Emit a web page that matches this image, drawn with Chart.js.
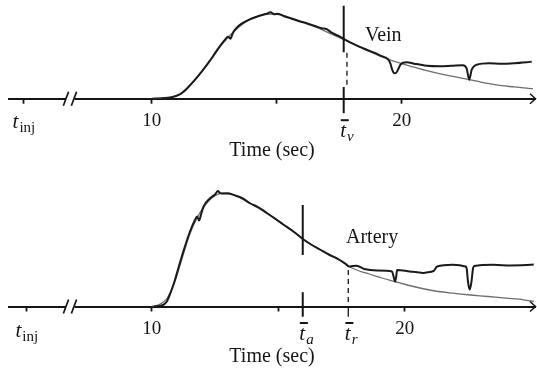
<!DOCTYPE html>
<html><head><meta charset="utf-8">
<script src="https://cdn.jsdelivr.net/npm/chart.js@4/dist/chart.umd.min.js"></script>
<style>
html,body{margin:0;padding:0;background:#fff;}
#wrap{position:relative;width:537px;height:374px;overflow:hidden;}
.panel{position:absolute;left:0;width:537px;height:187px;}
canvas{display:block;}
</style></head>
<body><div id="wrap">
<div class="panel" style="top:0"><canvas id="c1" width="537" height="187"></canvas></div>
<div class="panel" style="top:187px"><canvas id="c2" width="537" height="187"></canvas></div>
</div>
<script>
// ---------- data (time in sec, signal in arbitrary units) ----------
const xTickLabels = ['', '10', '', '20'];
const xTitle = 'Time (sec)';

// Vein panel
const veinTicks = [4.89, 10, 15, 20];
const veinMeasT = [10.0,10.4,10.8,11.1,11.4,11.7,12.0,12.3,12.6,12.9,13.05,13.15,13.25,13.4,13.6,13.9,14.2,14.45,14.6,14.75,14.9,15.05,15.3,15.6,15.9,16.2,16.5,16.8,17.0,17.2,17.45,17.7,18.0,18.3,18.6,18.9,19.2,19.45,19.55,19.62,19.7,19.78,19.86,19.95,20.05,20.2,20.5,21.0,21.5,22.0,22.45,22.6,22.7,22.8,23.0,23.5,24.0,24.5,25.0,25.2];
const veinMeasV = [0,0.5,1.5,4,10,18,27,37,48,58,62,60,66,71,75,79,82,84,85,86.5,84.5,85,82.5,80,77.5,75.5,73,70.5,69.5,66,63,59.5,55.5,52,49,46,42.5,39.5,35,29,25.5,26,29.5,34,36,36.5,35,33,32.5,33,33.5,30,19,29,34,35.5,35,35.5,36.5,37];
const veinFitT = [10.0,10.5,11.0,11.3,11.6,12.0,12.4,12.8,13.2,13.6,14.0,14.4,14.8,15.2,15.6,16.0,16.4,16.8,17.2,17.6,18.0,18.5,19.0,19.5,20.0,20.5,21.0,21.5,22.0,22.5,23.0,23.5,24.0,24.5,25.0,25.25];
const veinFitV = [0,0.5,3,7,15,27,40,54,65,74,80,83.5,84.5,83.5,80.5,77,73,69,64.5,60,55.5,49.5,44,39,35,31.5,28,25,22.5,20,17.5,15,13,11.8,10.5,10];
const tV = 17.68;

// Artery panel
const arteryTicks = [5.06, 10, 15, 20];
const arteryMeasT = [10.1,10.4,10.6,10.75,10.9,11.05,11.25,11.5,11.7,11.8,11.87,11.95,12.05,12.3,12.5,12.62,12.7,12.8,13.0,13.3,13.6,13.9,14.2,14.55,14.9,15.2,15.6,16.0,16.3,16.65,17.0,17.4,17.65,17.8,17.95,18.1,18.4,18.9,19.5,19.56,19.62,19.66,19.7,20.2,20.5,20.7,20.85,21.15,21.28,21.9,22.4,22.45,22.5,22.57,22.64,22.7,22.75,23.5,24.2,25.0,25.1];
const arteryMeasV = [0,1,5,14,25,38,55,74,86,90,86,92,100,108,112,115.5,113.5,113,113,111,108,103,99.5,93.5,87.5,82,75,67,62,57,52,47,43,40,40.5,40.7,37.5,36,35,30,25,29,36.5,35,34.3,33.5,34,35.7,40,41.7,40,38,25,17,25,38,40.5,41.7,41,41.7,42];
const arteryFitT = [10.0,10.3,10.6,10.9,11.2,11.5,11.8,12.1,12.4,12.7,13.0,13.3,13.7,14.1,14.5,15.0,15.5,16.0,16.5,17.0,17.5,17.8,18.2,18.6,19.1,19.6,20.1,20.6,21.2,21.9,22.6,23.3,24.0,24.7,25.1];
const arteryFitV = [0,2,8,24,48,72,89,101,109,113,113.5,111,106,100,94,85.5,77,67,59,52,45,40,35.5,32.5,28.5,25,21.5,18.5,15.5,13.3,11.5,10,8.3,6.7,5];
const tA = 15.97;
const tR = 17.77;

// ---------- helpers ----------
const pts = (ts, vs) => ts.map((t, i) => ({x: t, y: vs[i]}));
const SERIF = '"Liberation Serif", "DejaVu Serif", serif';
const INK = '#151515';

const decor = {
  id: 'panelDecor',
  afterDraw(chart, args, o) {
    const {ctx, chartArea} = chart;
    const xs = chart.scales.x, ys = chart.scales.y;
    const ay = ys.getPixelForValue(0);
    ctx.save();
    // axis break "//"
    const bx = xs.getPixelForValue(o.breakAt);
    ctx.fillStyle = '#fff';
    ctx.fillRect(bx - 4, ay - 2, 8.5, 4);
    ctx.strokeStyle = INK; ctx.lineWidth = 1.7;
    for (const dx of [-4, 4]) {
      ctx.beginPath(); ctx.moveTo(bx + dx - 2.6, ay + 7); ctx.lineTo(bx + dx + 2.6, ay - 7); ctx.stroke();
    }
    // arrow head
    const r = chartArea.right;
    ctx.lineWidth = 1.5;
    ctx.beginPath(); ctx.moveTo(r - 5, ay - 5); ctx.lineTo(r + 0.5, ay); ctx.lineTo(r - 5, ay + 5); ctx.stroke();
    // symbol labels (t with subscript, optional overbar)
    ctx.fillStyle = INK;
    for (const L of o.symbols) {
      const px = xs.getPixelForValue(L.t);
      ctx.font = 'italic 21px ' + SERIF;
      const wt = ctx.measureText('t').width;
      ctx.font = (L.subItalic ? 'italic ' : '') + '15px ' + SERIF;
      const ws = ctx.measureText(L.sub).width;
      let x0 = L.bar ? px - wt / 2 - 0.5 : px - (wt + ws + 1) / 2;
      ctx.font = 'italic 21px ' + SERIF;
      ctx.textBaseline = 'alphabetic'; ctx.textAlign = 'left';
      ctx.fillText('t', x0, ay + L.dy);
      ctx.font = (L.subItalic ? 'italic ' : '') + '15px ' + SERIF;
      ctx.fillText(L.sub, x0 + wt + 1, ay + L.dy + 4);
      if (L.bar) {
        ctx.fillRect(x0 + 0.5, ay + L.dy - 17.5, 8, 2);
      }
    }
    // curve names
    ctx.font = '20px ' + SERIF;
    ctx.textAlign = 'left'; ctx.textBaseline = 'alphabetic';
    ctx.fillText(o.name.text, xs.getPixelForValue(o.name.t), ys.getPixelForValue(o.name.v));
    ctx.restore();
  }
};

function marker(data, dashed, width) {
  return {data, borderColor: INK, borderWidth: width, borderDash: dashed ? [5, 4] : [],
    pointRadius: 0, clip: false, tension: 0, order: 0};
}

function makePanel(id, p) {
  return new Chart(document.getElementById(id), {
    type: 'line',
    data: {datasets: [
      ...p.markers,
      {data: pts(p.measT, p.measV), borderColor: '#1a1a1a', borderWidth: 2, pointRadius: 0,
       cubicInterpolationMode: 'monotone', order: 1},
      {data: pts(p.fitT, p.fitV), borderColor: '#6e6e6e', borderWidth: 1.3, pointRadius: 0,
       cubicInterpolationMode: 'monotone', order: 2}
    ]},
    options: {
      responsive: false, animation: false, devicePixelRatio: 1,
      layout: {padding: {left: 9, right: 2, top: 0, bottom: 0}},
      plugins: {legend: {display: false}, tooltip: {enabled: false},
        panelDecor: {breakAt: p.breakAt, symbols: p.symbols, name: p.name}},
      scales: {
        x: {type: 'linear', min: p.xmin, max: p.xmax,
          afterFit: s => { s.height = p.axisH; },
          afterBuildTicks: s => { s.ticks = p.ticks.map(v => ({value: v})); },
          border: {display: true, color: INK, width: 2},
          grid: {drawOnChartArea: false, drawTicks: true, tickLength: 5, tickWidth: 1.8, tickColor: INK, color: INK},
          ticks: {autoSkip: false, maxRotation: 0, padding: 6, color: INK,
            font: {family: SERIF, size: 19},
            callback: (v, i) => xTickLabels[i]},
          title: {display: true, text: xTitle, color: INK, font: {family: SERIF, size: 20},
            padding: {top: 0, bottom: p.titlePad}}
        },
        y: {display: false, min: 0, max: p.ymax}
      }
    },
    plugins: [decor]
  });
}

makePanel('c1', {
  measT: veinMeasT, measV: veinMeasV, fitT: veinFitT, fitV: veinFitV,
  ticks: veinTicks, xmin: 4.292, xmax: 25.332, ymax: 98.7, axisH: 88.3, titlePad: 24,
  breakAt: 6.73,
  markers: [
    marker([{x: tV, y: 93}, {x: tV, y: 46.5}], false, 2),
    marker([{x: tV + 0.13, y: 46}, {x: tV + 0.13, y: 11.7}], true, 1.3),
    marker([{x: tV, y: 11.7}, {x: tV, y: -14.5}], false, 2)
  ],
  symbols: [
    {t: veinTicks[0], sub: 'inj', dy: 29, subItalic: false, bar: false},
    {t: tV, sub: 'v', dy: 38, subItalic: true, bar: true}
  ],
  name: {text: 'Vein', t: 18.53, v: 58}
});

makePanel('c2', {
  measT: arteryMeasT, measV: arteryMeasV, fitT: arteryFitT, fitV: arteryFitV,
  ticks: arteryTicks, xmin: 4.36, xmax: 25.15, ymax: 119.5, axisH: 67.5, titlePad: 5,
  breakAt: 6.77,
  markers: [
    marker([{x: tA, y: 101.5}, {x: tA, y: 51.5}], false, 2),
    marker([{x: tA, y: 14.2}, {x: tA, y: -10.2}], false, 2),
    marker([{x: tR, y: 36.5}, {x: tR, y: 0}], true, 1.3),
    marker([{x: tR, y: 0}, {x: tR, y: -10.2}], false, 1.3)
  ],
  symbols: [
    {t: arteryTicks[0], sub: 'inj', dy: 30, subItalic: false, bar: false},
    {t: tA, sub: 'a', dy: 33, subItalic: true, bar: true},
    {t: tR, sub: 'r', dy: 33, subItalic: true, bar: true}
  ],
  name: {text: 'Artery', t: 17.68, v: 63.5}
});
</script>
</body></html>
